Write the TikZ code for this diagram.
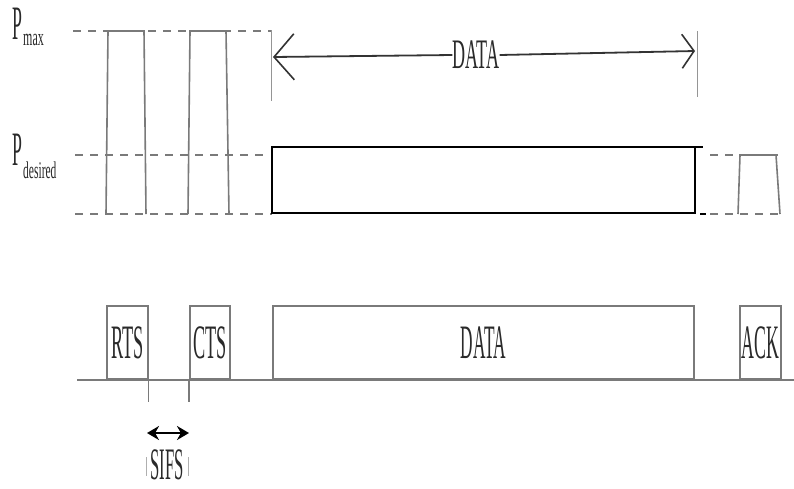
\documentclass[tikz,border=0pt]{standalone}
\usepackage{fontspec}
\usepackage{graphicx}
\setmainfont{Liberation Serif}
\usetikzlibrary{arrows.meta}
\definecolor{ln}{HTML}{7A7A7A}
\definecolor{tx}{HTML}{2A2A2A}
\newcommand{\sqz}[3]{\scalebox{#1}[1]{\fontsize{#2}{#2}\selectfont #3}}
\begin{document}
\begin{tikzpicture}[x=1pt,y=-1pt,
  gdash/.style={draw=ln, line width=2pt, dash pattern=on 8pt off 7pt},
  pulse/.style={draw=ln, line width=1.6pt},
  bx/.style={draw=ln, line width=1.6pt, inner sep=0pt, minimum height=73pt, anchor=south west, text=tx},
  lbl/.style={text=tx, inner sep=0pt},
  vmark/.style={draw=ln!80, line width=1pt},
  thickblk/.style={draw=black, line width=2.6pt},
]
\fill[white] (0,0) rectangle (794,488);
\useasboundingbox (0,0) rectangle (794,488);

% axis labels
\node[lbl] (pmaxP) at (17,24) {\sqz{0.37}{48}{P}};
\node[lbl, anchor=west] (pmaxS) at (23,40) {\sqz{0.5}{24}{max}};
\node[lbl] (pdesP) at (17,150) {\sqz{0.37}{48}{P}};
\node[lbl, anchor=west] (pdesS) at (23,170) {\sqz{0.48}{24}{desired}};

% level lines (left part)
\draw[gdash] (73,31) -- (272,31);
\draw[gdash] (75,155) -- (265,155);
\draw[gdash] (75,214) -- (272,214);

% RTS and CTS power pulses
\draw[pulse] (106,214) -- (108,31) -- (144,31) -- (146,214);
\draw[pulse] (188,214) -- (190,31) -- (226,31) -- (229,214);

% DATA duration markers
\coordinate (mL1) at (271,30);
\coordinate (mL2) at (271,101);
\coordinate (mR1) at (697,31);
\coordinate (mR2) at (697,97);
\draw[vmark] (mL1) -- (mL2);
\draw[vmark] (mR1) -- (mR2);

\node[lbl] (dtop) at (476,55) {\sqz{0.43}{42}{DATA}};
\coordinate (aL) at (273,57);
\coordinate (aR) at (695,51);
\draw[draw=black!80, line width=1.8pt, -{Straight Barb[length=20pt,width=46pt,line width=1.6pt]}] (dtop.west) -- (aL);
\draw[draw=black!80, line width=1.8pt, -{Straight Barb[length=12pt,width=34pt,line width=1.6pt]}] (dtop.east) -- (aR);

% DATA power (thick)
\draw[thickblk] (272,214) -- (272,147) -- (703,147);
\draw[thickblk] (695,147) -- (695,213) -- (272,213);
\draw[draw=black, line width=2.6pt] (700,214) -- (706,214);

% after DATA: ACK pulse
\draw[gdash] (710,155) -- (782,155);
\draw[gdash] (710,214) -- (782,214);
\draw[pulse] (738,214) -- (740,155) -- (776,155) -- (780,214);

% bottom time line
\coordinate (b0) at (77,380);
\coordinate (b1) at (794,380);
\draw[draw=ln, line width=2.5pt] (b0) -- (b1);

\node[bx, minimum width=41pt] (rts) at (106,380) {\sqz{0.38}{48}{RTS}};
\node[bx, minimum width=40pt] (cts) at (189,380) {\sqz{0.38}{48}{CTS}};
\node[bx, minimum width=421pt] (data) at (272,380) {\sqz{0.36}{48}{DATA}};
\node[bx, minimum width=41pt] (ack) at (739,380) {\sqz{0.37}{48}{ACK}};

% SIFS
\draw[draw=ln, line width=1.2pt] (rts.south east) -- +(0,22);
\draw[draw=ln, line width=1.2pt] (cts.south west) -- +(0,22);
\coordinate (s1) at (147,433);
\coordinate (s2) at (189,433);
\draw[draw=black, line width=2pt, {Stealth[length=12pt,width=14pt]}-{Stealth[length=12pt,width=14pt]}] (s1) -- (s2);
\node[lbl] (sifs) at (167,465) {\sqz{0.37}{45}{SIFS}};
\draw[draw=ln!60, line width=1pt] (146,457) -- (146,476);
\draw[draw=ln!60, line width=1pt] (188,457) -- (188,476);
\end{tikzpicture}
\end{document}
